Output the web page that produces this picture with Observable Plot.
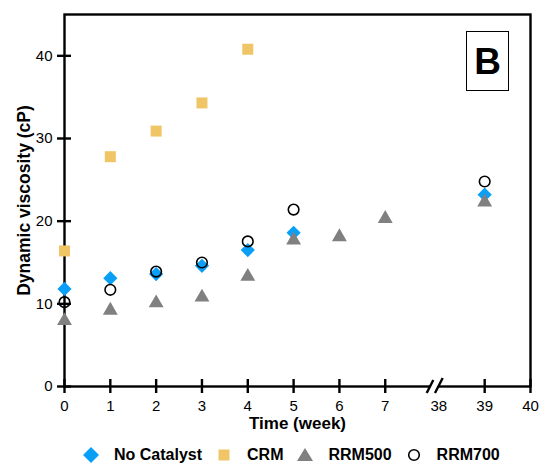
<!DOCTYPE html>
<html><head><meta charset="utf-8">
<script src="https://cdn.jsdelivr.net/npm/d3@7"></script>
<script src="https://cdn.jsdelivr.net/npm/@observablehq/plot@0.6"></script>
<style>
body{margin:0;background:#fff;font-family:"Liberation Sans",Arial,sans-serif;}
#wrap{position:relative;width:540px;height:463px;}
#badge{position:absolute;left:466px;top:31px;width:43px;height:60px;box-sizing:border-box;border:1.5px solid #000;display:flex;align-items:center;justify-content:center;font-weight:bold;font-size:37px;line-height:1;background:#fff;}
#legend{position:absolute;left:80px;top:446px;height:18px;display:flex;align-items:center;font-weight:bold;font-size:16px;color:#000;white-space:nowrap;}
#legend .item{display:flex;align-items:center;margin-right:11px;}
#legend .sym{display:block;margin-right:12px;}
</style></head><body>
<div id="wrap"><div id="chart"></div><div id="badge">B</div><div id="legend"></div></div>
<script>
// ---- data ----
const seriesNames = ["No Catalyst", "CRM", "RRM500", "RRM700"];
const noCatalystWeeks = [0, 1, 2, 3, 4, 5, 39];
const noCatalystVisc  = [11.8, 13.1, 13.6, 14.6, 16.5, 18.6, 23.2];
const crmWeeks = [0, 1, 2, 3, 4];
const crmVisc  = [16.4, 27.8, 30.9, 34.3, 40.8];
const rrm500Weeks = [0, 1, 2, 3, 4, 5, 6, 7, 39];
const rrm500Visc  = [7.95, 9.2, 10.1, 10.8, 13.3, 17.7, 18.1, 20.3, 22.3];
const rrm700Weeks = [0, 1, 2, 3, 4, 5, 39];
const rrm700Visc  = [10.2, 11.7, 13.9, 15.0, 17.55, 21.4, 24.8];
const xTickWeeks  = [0, 1, 2, 3, 4, 5, 6, 7, 38, 39, 40];
const xTickLabels = ["0", "1", "2", "3", "4", "5", "6", "7", "38", "39", "40"];
const yTicks = [0, 10, 20, 30, 40];
const yMax = 45;

// broken axis: weeks 0..7, then 38..40
const breakAfter = 7, resumeAt = 38, resumePos = 8.17, breakPos = 8.09;
const pos = w => (w <= breakAfter ? w : resumePos + (w - resumeAt));
const xMax = pos(40);

const colors = {"No Catalyst": "#0a9ff7", "CRM": "#efc566", "RRM500": "#808080", "RRM700": "#000"};
const toRows = (weeks, vals) => weeks.map((w, i) => ({p: pos(w), v: vals[i]}));
const noCat = toRows(noCatalystWeeks, noCatalystVisc);
const crm = toRows(crmWeeks, crmVisc);
const rrm500 = toRows(rrm500Weeks, rrm500Visc);
const rrm700 = toRows(rrm700Weeks, rrm700Visc);

const tickPositions = xTickWeeks.filter(w => w !== resumeAt).map(pos);
const labelPositions = xTickWeeks.map(pos);
const labelFor = p => xTickLabels[labelPositions.findIndex(q => Math.abs(q - p) < 1e-9)];

const W = 540, H = 432, mL = 64, mR = 10, mT = 14, mB = 46, half = 7;
const frameW = W - mL - mR, frameH = H - mT - mB;
// tick half-length expressed in data units of each scale
const yHalf = half * yMax / frameH, xHalf = half * xMax / frameW;

function breakMark(index, {x, y}) {
  const bx = x(breakPos), by = y(0);
  const g = d3.create("svg:g");
  g.append("rect").attr("x", bx - 4.5).attr("y", by - 2.5).attr("width", 8).attr("height", 5).attr("fill", "#fff");
  g.append("path")
    .attr("d", `M${bx - 8},${by + 7}L${bx - 1.4},${by - 6}M${bx + 0.3},${by + 7}L${bx + 8},${by - 8}`)
    .attr("stroke", "#000").attr("stroke-width", 2.4).attr("fill", "none");
  return g.node();
}

const chart = Plot.plot({
  width: W, height: H,
  marginLeft: mL, marginRight: mR, marginTop: mT, marginBottom: mB,
  style: {fontFamily: "'Liberation Sans', Arial, sans-serif", fontSize: "15px"},
  x: {domain: [0, xMax]},
  y: {domain: [0, yMax]},
  marks: [
    Plot.frame({stroke: "#000", strokeWidth: 2.4}),
    Plot.ruleX(tickPositions, {x: d => d, y1: -yHalf, y2: yHalf, stroke: "#000", strokeWidth: 2.4}),
    Plot.ruleY(yTicks, {y: d => d, x1: -xHalf, x2: xHalf, stroke: "#000", strokeWidth: 2.4}),
    Plot.axisX(labelPositions, {anchor: "bottom", tickSize: 0, tickPadding: 14, tickFormat: labelFor, label: null, fontSize: 15}),
    Plot.axisY(yTicks, {anchor: "left", tickSize: 0, tickPadding: 12, label: null, fontSize: 15}),
    breakMark,
    Plot.text(["Time (week)"], {frameAnchor: "bottom", dy: 37, lineAnchor: "middle", textAnchor: "middle", fill: "#000", fontWeight: "bold", fontSize: 17}),
    Plot.text(["Dynamic viscosity (cP)"], {frameAnchor: "left", dx: -40, rotate: -90, lineAnchor: "middle", textAnchor: "middle", fill: "#000", fontWeight: "bold", fontSize: 17.5}),
    Plot.dot(crm, {x: "p", y: "v", symbol: "square2", r: 7, fill: colors["CRM"], stroke: null}),
    Plot.dot(noCat, {x: "p", y: "v", symbol: "diamond2", r: 6.4, fill: colors["No Catalyst"], stroke: null}),
    Plot.dot(rrm500, {x: "p", y: "v", symbol: "triangle2", r: 7.1, fill: colors["RRM500"], stroke: null}),
    Plot.dot(rrm700, {x: "p", y: "v", symbol: "circle", r: 5.3, fill: "none", stroke: "#000", strokeWidth: 1.6})
  ]
});
document.getElementById("chart").appendChild(chart);

// legend
const legendSymbols = {
  "No Catalyst": `<polygon points="11,3 19,11 11,19 3,11" fill="${colors["No Catalyst"]}"/>`,
  "CRM": `<rect x="5.5" y="5.5" width="11" height="11" fill="${colors["CRM"]}"/>`,
  "RRM500": `<polygon points="11,4 19,17 3,17" fill="${colors["RRM500"]}"/>`,
  "RRM700": `<circle cx="11" cy="11" r="5.3" fill="none" stroke="#000" stroke-width="1.6"/>`
};
const legend = document.getElementById("legend");
seriesNames.forEach(name => {
  const item = document.createElement("div");
  item.className = "item";
  item.innerHTML = `<svg class="sym" width="22" height="22" viewBox="0 0 22 22">${legendSymbols[name]}</svg><span>${name}</span>`;
  legend.appendChild(item);
});
</script>
</body></html>
